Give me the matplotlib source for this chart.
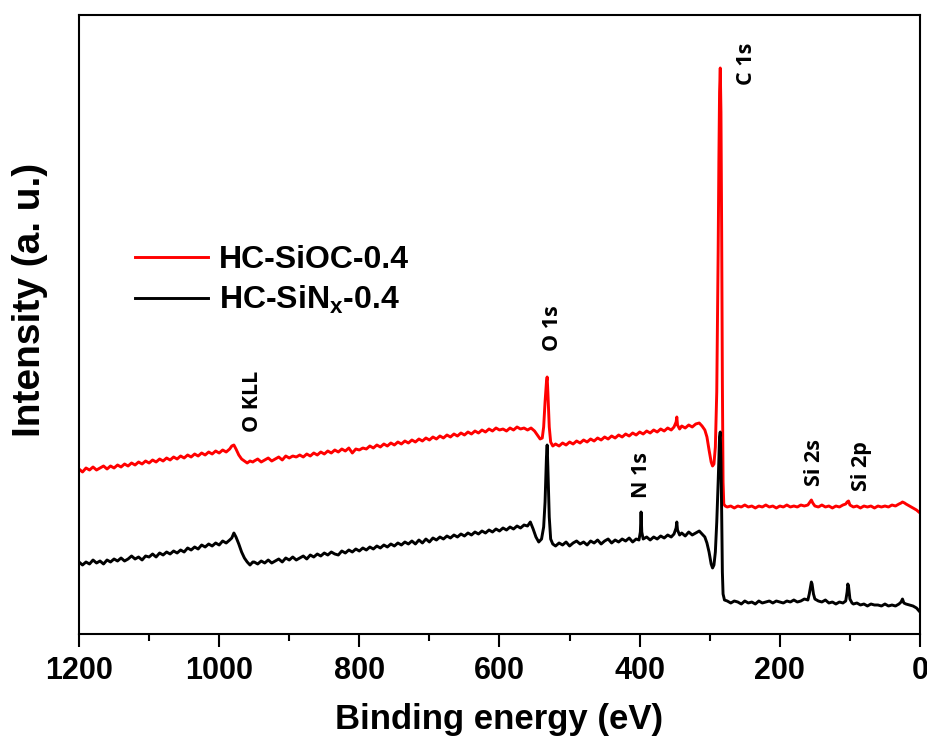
import matplotlib
matplotlib.use("Agg")
import matplotlib.pyplot as plt

# ---------------- data: (binding energy eV, intensity a.u.) ----------------
black_points = [
    (1200, 70), (1195, 67), (1190, 70), (1185, 68), (1180, 72), (1175, 69), (1170, 71), (1165, 68),
    (1160, 72), (1155, 70), (1150, 73), (1145, 71), (1140, 74), (1135, 71), (1130, 73), (1125, 76),
    (1120, 73), (1115, 75), (1110, 72), (1105, 76), (1100, 75), (1095, 78), (1090, 75), (1085, 79),
    (1080, 77), (1075, 80), (1070, 78), (1065, 81), (1060, 79), (1055, 82), (1050, 80), (1045, 84),
    (1040, 82), (1035, 85), (1030, 83), (1025, 87), (1020, 85), (1015, 88), (1010, 86), (1005, 89),
    (1000, 87), (995, 91), (990, 89), (985, 92), (982, 94), (979, 99), (976, 95), (972, 88),
    (968, 80), (964, 74), (960, 70), (956, 67), (952, 70),
    (950, 70), (945, 68), (940, 71), (935, 69), (930, 72), (925, 69), (920, 71), (915, 73),
    (910, 70), (905, 74), (900, 72), (895, 75), (890, 72), (885, 74), (880, 76), (875, 73),
    (870, 77), (865, 75), (860, 78), (855, 76), (850, 79), (845, 77), (840, 80), (835, 78),
    (830, 77), (825, 81), (820, 79), (815, 82), (810, 80), (805, 83), (800, 81), (795, 84),
    (790, 82), (785, 85), (780, 83), (775, 86), (770, 84), (765, 87), (760, 85), (755, 88),
    (750, 86), (745, 89), (740, 87), (735, 90), (730, 88), (725, 91), (720, 88), (715, 92),
    (710, 89), (705, 93), (700, 90), (695, 94), (690, 92), (685, 95), (680, 93), (675, 96),
    (670, 94), (665, 97), (660, 95), (655, 98), (650, 96), (645, 99), (640, 97), (635, 100),
    (630, 98), (625, 101), (620, 99), (615, 102), (610, 100), (605, 103), (600, 101), (595, 104),
    (590, 102), (585, 105), (580, 103), (575, 106), (570, 104), (565, 107), (560, 106),
    (556, 110), (552, 103), (548, 95), (544, 90), (540, 93), (537, 105), (535, 130), (533, 175),
    (532, 187), (531, 165), (529, 115), (527, 93), (524, 88), (520, 86),
    (515, 89), (510, 87), (505, 90), (500, 86), (495, 89), (490, 91), (485, 88), (480, 90),
    (475, 87), (470, 91), (465, 89), (460, 92), (455, 88), (450, 91), (445, 93), (440, 89),
    (435, 92), (430, 90), (425, 93), (420, 91), (415, 94), (410, 90), (405, 93), (401, 92),
    (399, 100), (398, 120), (397, 100), (395, 93), (390, 95), (385, 92), (380, 95), (375, 93),
    (370, 96), (365, 94), (360, 97), (355, 95), (351, 98), (348, 104), (347, 110), (346, 102),
    (343, 97), (340, 99), (335, 96), (330, 100), (325, 97), (320, 99), (315, 101), (311, 98),
    (307, 95), (304, 89), (301, 80), (298, 68), (296, 64), (294, 67), (292, 80), (290, 110),
    (288, 150), (286, 195), (285, 200), (284, 170), (283, 120), (282, 60), (281, 38), (279, 32),
    (275, 31), (270, 29), (265, 31), (260, 30), (255, 28), (250, 31), (245, 29), (240, 30),
    (235, 28), (230, 31), (225, 29), (220, 30), (215, 31), (210, 29), (205, 31), (200, 30),
    (195, 29), (190, 31), (185, 30), (180, 32), (175, 30), (170, 31), (165, 33), (160, 32),
    (158, 38), (156, 46), (155, 50), (154, 48), (152, 38), (150, 33), (145, 31), (140, 30),
    (135, 32), (130, 29), (125, 30), (120, 28), (115, 30), (110, 29), (106, 31), (104, 40),
    (103, 48), (102, 46), (100, 33), (97, 29), (95, 28), (90, 29), (85, 27), (80, 28),
    (75, 26), (70, 28), (65, 27), (60, 27), (55, 26), (50, 28), (45, 26), (40, 27),
    (35, 26), (30, 28), (27, 30), (25, 33), (23, 29), (20, 28), (15, 27), (10, 26),
    (5, 24), (0, 20),
]

red_points = [
    (1200, 163), (1195, 160), (1190, 164), (1185, 162), (1180, 165), (1175, 162), (1170, 164),
    (1165, 166), (1160, 163), (1155, 166), (1150, 164), (1145, 167), (1140, 165), (1135, 168),
    (1130, 166), (1125, 169), (1120, 167), (1115, 170), (1110, 168), (1105, 171), (1100, 169),
    (1095, 172), (1090, 170), (1085, 173), (1080, 171), (1075, 174), (1070, 172), (1065, 175),
    (1060, 173), (1055, 176), (1050, 174), (1045, 177), (1040, 175), (1035, 178), (1030, 176),
    (1025, 179), (1020, 177), (1015, 180), (1010, 178), (1005, 181), (1000, 179), (995, 182),
    (990, 180), (985, 183), (982, 186), (979, 187), (976, 183), (972, 177), (968, 173),
    (964, 171), (960, 169), (956, 171), (952, 170),
    (950, 171), (945, 173), (940, 170), (935, 172), (930, 174), (925, 171), (920, 173),
    (915, 175), (910, 172), (905, 176), (900, 174), (895, 176), (890, 175), (885, 177),
    (880, 175), (875, 178), (870, 176), (865, 179), (860, 177), (855, 180), (850, 178),
    (845, 181), (840, 179), (835, 182), (830, 180), (825, 183), (820, 181), (815, 184),
    (810, 179), (805, 183), (800, 182), (795, 184), (790, 183), (785, 186), (780, 184),
    (775, 187), (770, 185), (765, 188), (760, 186), (755, 189), (750, 187), (745, 190),
    (740, 188), (735, 191), (730, 189), (725, 192), (720, 190), (715, 193), (710, 191),
    (705, 194), (700, 192), (695, 195), (690, 193), (685, 196), (680, 194), (675, 197),
    (670, 195), (665, 198), (660, 196), (655, 199), (650, 197), (645, 200), (640, 198),
    (635, 201), (630, 199), (625, 202), (620, 200), (615, 203), (610, 201), (605, 204),
    (600, 202), (595, 203), (590, 201), (585, 204), (580, 202), (575, 205), (570, 203),
    (565, 204), (560, 202), (555, 204), (550, 201), (546, 197), (542, 193), (539, 194),
    (537, 205), (535, 230), (533, 250), (532, 255), (531, 240), (529, 205), (527, 190),
    (524, 186), (520, 188), (515, 186), (510, 189), (505, 187), (500, 190), (495, 188),
    (490, 191), (485, 189), (480, 192), (475, 190), (470, 193), (465, 191), (460, 194),
    (455, 192), (450, 195), (445, 193), (440, 196), (435, 194), (430, 197), (425, 195),
    (420, 198), (415, 196), (410, 199), (405, 197), (400, 200), (395, 198), (390, 201),
    (385, 199), (380, 202), (375, 200), (370, 203), (365, 201), (360, 204), (355, 202),
    (351, 205), (348, 210), (347, 215), (346, 207), (343, 203), (340, 206), (335, 204),
    (330, 207), (325, 205), (320, 208), (315, 209), (311, 206), (307, 202), (304, 195),
    (301, 182), (298, 170), (296, 166), (294, 168), (292, 185), (290, 240), (288, 380),
    (287, 470), (286, 540), (285, 564), (284, 520), (283, 400), (282, 250), (281, 150),
    (280, 128), (278, 126), (275, 125), (270, 126), (265, 124), (260, 126), (255, 125),
    (250, 127), (245, 125), (240, 126), (235, 124), (230, 126), (225, 125), (220, 127),
    (215, 125), (210, 126), (205, 124), (200, 126), (195, 125), (190, 127), (185, 125),
    (180, 126), (175, 125), (170, 127), (165, 126), (160, 127), (157, 130), (155, 132),
    (153, 129), (150, 126), (145, 125), (140, 127), (135, 125), (130, 126), (125, 124),
    (120, 126), (115, 125), (110, 127), (106, 128), (104, 130), (102, 131), (100, 127),
    (95, 125), (90, 126), (85, 124), (80, 126), (75, 125), (70, 126), (65, 124), (60, 126),
    (55, 125), (50, 126), (45, 125), (40, 127), (35, 126), (30, 128), (27, 129), (25, 130),
    (22, 129), (20, 128), (15, 126), (10, 124), (5, 122), (0, 119),
]

series_labels = ["HC-SiOC-0.4", r"HC-SiN$_{\mathbf{x}}$-0.4"]
series_colors = ["#ff0000", "#000000"]

x_ticks = [1200, 1000, 800, 600, 400, 200, 0]
x_tick_labels = ["1200", "1000", "800", "600", "400", "200", "0"]
x_minor_ticks = [1100, 900, 700, 500, 300, 100]

peak_labels = ["O KLL", "O 1s", "N 1s", "C 1s", "Si 2s", "Si 2p"]
peak_label_x = [953, 524, 397, 247, 151, 84]
peak_label_y = [231, 304, 157, 568, 170, 166]

# ---------------- figure ----------------
plt.rcParams["font.family"] = ["Liberation Sans", "DejaVu Sans"]
plt.rcParams["mathtext.fontset"] = "custom"
plt.rcParams["mathtext.rm"] = "Liberation Sans:bold"
plt.rcParams["mathtext.bf"] = "Liberation Sans:bold"

fig = plt.figure(figsize=(9.28, 7.46), dpi=100)
ax = fig.add_axes([79 / 928, 1 - 634 / 746, (920 - 79) / 928, (634 - 15) / 746])

red_e, red_i = zip(*red_points)
blk_e, blk_i = zip(*black_points)
l_red, = ax.plot(red_e, red_i, color=series_colors[0], lw=2.1,
                 label=series_labels[0], solid_joinstyle="round")
l_blk, = ax.plot(blk_e, blk_i, color=series_colors[1], lw=2.1,
                 label=series_labels[1], solid_joinstyle="round")

ax.set_xlim(1200, 0)
ax.set_ylim(-2, 617)
ax.set_xticks(x_ticks)
ax.set_xticklabels(x_tick_labels, fontsize=22, fontweight="bold")
ax.set_xticks(x_minor_ticks, minor=True)
ax.tick_params(axis="x", which="major", direction="out", length=9.5, width=1.5, pad=6)
ax.tick_params(axis="x", which="minor", direction="out", length=5, width=1.5)
ax.set_yticks([])
for sp in ax.spines.values():
    sp.set_linewidth(1.5)

ax.set_xlabel("Binding energy (eV)", fontsize=25, fontweight="bold")
ax.xaxis.set_label_coords(0.5, -0.112)
ax.set_ylabel("Intensity (a. u.)", fontsize=28, fontweight="bold")
ax.yaxis.set_label_coords(-0.037, 0.54)

for txt, xx, yy in zip(peak_labels, peak_label_x, peak_label_y):
    ax.text(xx, yy, txt, rotation=90, ha="center", va="center", fontsize=15.5,
            fontweight="bold", family=["Open Sans", "DejaVu Sans"])

leg = ax.legend(handles=[l_red, l_blk], loc="upper left", bbox_to_anchor=(0.032, 0.675),
                frameon=False, prop={"size": 23, "weight": "bold"},
                handlelength=2.3, handletextpad=0.35, labelspacing=0.28)

fig.savefig("out.png", dpi=100)
